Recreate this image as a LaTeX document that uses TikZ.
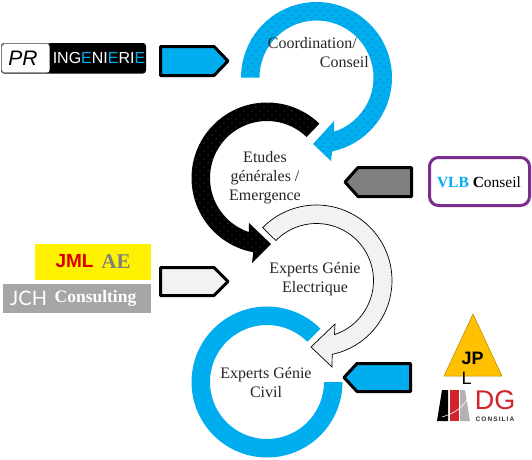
\documentclass[tikz,border=0pt]{standalone}
\usepackage{fontspec}
\setmainfont{Liberation Serif}
\newfontfamily\logosans{Liberation Sans}
\newfontfamily\logothin{Lato}
\usetikzlibrary{patterns}
\definecolor{skyb}{HTML}{00AEEF}
\definecolor{palegr}{HTML}{F2F2F2}
\definecolor{midgr}{HTML}{7F7F7F}
\definecolor{purp}{HTML}{7B2D8E}
\definecolor{gold}{HTML}{FFC000}
\definecolor{dgred}{HTML}{D2232A}
\pgfdeclarepatternformonly{spotgrid}{\pgfqpoint{-1pt}{-1pt}}{\pgfqpoint{9pt}{9pt}}{\pgfqpoint{8pt}{8pt}}{%
  \pgfpathcircle{\pgfqpoint{0pt}{0pt}}{0.45pt}%
  \pgfpathcircle{\pgfqpoint{4pt}{4pt}}{0.45pt}%
  \pgfusepath{fill}}
\tikzset{
  pentagonbox/.style={draw=black,line width=3pt,line join=round},
  label16/.style={font=\fontsize{16}{19}\selectfont,align=center,text=black!85,inner sep=0pt},
}
\begin{document}
\begin{tikzpicture}[x=1pt,y=-1pt]
\useasboundingbox (0,0) rectangle (532,459);
\fill[white] (0,0) rectangle (532,459);

% ring 1
\path[fill=skyb,postaction={pattern=spotgrid,pattern color=black}]
  plot[domain=180:-78,samples=70] ({316.5+75.5*cos(\x)},{77.5-75.5*sin(\x)})
  -- (331,161) -- (313,144) -- (334,121)
  -- plot[domain=-72:180,samples=70] ({316.5+57*cos(\x)},{77.5-57*sin(\x)})
  -- cycle;

% ring 2
\path[fill=black,postaction={pattern=spotgrid,pattern color=yellow!30}]
  plot[domain=46:259.5,samples=70] ({267+75.5*cos(\x)},{178-75.5*sin(\x)})
  -- (252,263) -- (271,244) -- (249,223)
  -- plot[domain=251.5:46,samples=70] ({267+57*cos(\x)},{178-57*sin(\x)})
  -- cycle;

% ring 3
\path[fill=palegr,draw=black,line width=0.7pt,line join=miter]
  plot[domain=135.5:-78,samples=70] ({316.5+75.5*cos(\x)},{280.5-75.5*sin(\x)})
  -- (332,367) -- (311,347) -- (335,324)
  -- plot[domain=-71.6:135.5,samples=70] ({316.5+57*cos(\x)},{280.5-57*sin(\x)})
  -- cycle;

% ring 4
\fill[skyb] plot[domain=45:360,samples=80] ({267+75.5*cos(\x)},{382-75.5*sin(\x)})
  -- plot[domain=360:45,samples=80] ({267+57*cos(\x)},{382-57*sin(\x)}) -- cycle;

% pentagons
\draw[pentagonbox,fill=skyb] (160.5,46.5) -- (214,46.5) -- (228,61) -- (214,75.5) -- (160.5,75.5) -- cycle;
\draw[pentagonbox,fill=midgr] (411.5,167.5) -- (358,167.5) -- (345,182) -- (358,196.5) -- (411.5,196.5) -- cycle;
\draw[pentagonbox,fill=palegr] (160.5,267.5) -- (214,267.5) -- (228,281.5) -- (214,295.5) -- (160.5,295.5) -- cycle;
\draw[pentagonbox,fill=skyb] (410.5,363.5) -- (357,363.5) -- (344,377.5) -- (357,391.5) -- (410.5,391.5) -- cycle;

% ring labels
\node[label16,align=right,anchor=north east] (coord) at (369,37) {Coordination/\hspace*{12pt}\\Conseil};
\node[label16] (etudes) at (265,178) {Etudes\\générales /\\Emergence};
\node[label16] (elec) at (315,279.5) {Experts Génie\\Electrique};
\node[label16] (civil) at (266,382.5) {Experts Génie\\Civil};

% PR logo
\fill[black,rounded corners=3pt] (1,43) rectangle (146,73.5);
\fill[white,rounded corners=2.5pt] (2,44) -- (49.5,44) -- (49.5,72.5) -- (2,72.5) -- cycle;
\draw[gray,line width=0.8pt,rounded corners=3pt] (49.5,43.5) -- (1.5,43.5) -- (1.5,73) -- (49.5,73);
\node[inner sep=0pt,font=\logosans\itshape\fontsize{21}{21}\selectfont] (pr) at (23,58.5) {PR};
\node[inner sep=0pt,text=white,font=\logosans\fontsize{16}{16}\selectfont] (ing) at (99,58)
  {ING\textcolor{skyb}{E}NI\textcolor{skyb}{E}RI\textcolor{skyb}{E}};

% VLB
\draw[draw=purp,line width=3pt,fill=white,rounded corners=9pt] (429.5,157.5) rectangle (529.5,205.5);
\node[inner sep=0pt,font=\fontsize{15.5}{16}\selectfont] (vlb) at (479,182.5)
  {\textcolor{skyb}{\textbf{VLB}} \textbf{C}onseil};

% JML
\fill[yellow] (35,244) rectangle (151,280);
\node[inner sep=0pt,text=red!85!black,font=\logosans\bfseries\fontsize{19}{19}\selectfont] (jml) at (74.5,261) {JML};
\node[inner sep=0pt,text=midgr,font=\bfseries\fontsize{21}{21}\selectfont] (ae) at (116,262) {AE};

% JCH
\fill[black!35] (3,284) rectangle (151,313);
\node[inner sep=0pt,text=white,font=\logothin\fontsize{20}{20}\selectfont] (jch) at (28.5,298.5) {JCH};
\node[inner sep=0pt,text=white,font=\bfseries\fontsize{17.5}{17}\selectfont] (cons) at (95.5,298.5) {Consulting};

% JPL triangle
\draw[fill=gold,draw=gold!70!black,line width=0.5pt,line join=round] (473,314) -- (502,376) -- (444,376) -- cycle;
\node[inner sep=0pt,align=left,anchor=north west,font=\logosans\fontsize{18}{20}\selectfont,text=black] (jpl) at (461.5,352) {\textbf{JP}\\L};

% DG logo
\fill[black] (437,421) -- (442,390) -- (448,390) -- (448,421) -- cycle;
\fill[dgred] (449.5,390) rectangle (459,421);
\fill[black!30] (460,390) -- (465,390) -- (470,421) -- (460,421) -- cycle;
\draw[white,line width=0.6pt] (442,417) .. controls (455,413) and (462,408) .. (468,398);
\node[inner sep=0pt,text=dgred,font=\logosans\fontsize{27}{27}\selectfont] (dg) at (495,400.5) {DG};
\node[inner sep=0pt,text=black!80,font=\logosans\bfseries\fontsize{6.5}{6}\selectfont] (dgc) at (495,419) {C\,O\,N\,S\,I\,L\,I\,A};
\end{tikzpicture}
\end{document}
